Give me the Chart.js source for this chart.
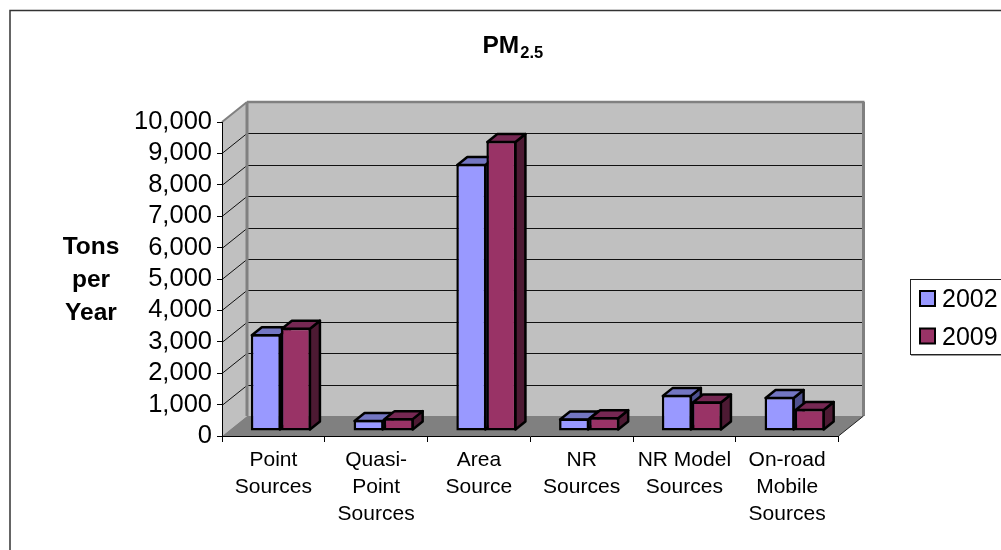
<!DOCTYPE html>
<html>
<head>
<meta charset="utf-8">
<title>PM2.5</title>
<style>
    html, body { margin: 0; padding: 0; background: #ffffff; overflow: hidden; }
    canvas { display: block; }
</style>
<script src="https://cdn.jsdelivr.net/npm/chart.js@4/dist/chart.umd.min.js"></script>
</head>
<body>
<canvas id="pmChart" width="1001" height="550"></canvas>
<script>
// Emissions by source type, tons per year
const categories = [
    ['Point', 'Sources'],
    ['Quasi-', 'Point', 'Sources'],
    ['Area', 'Source'],
    ['NR', 'Sources'],
    ['NR Model', 'Sources'],
    ['On-road', 'Mobile', 'Sources']
];
const values2002 = [3080, 350, 8500, 400, 1150, 1080];
const values2009 = [3290, 410, 9235, 440, 940, 700];
const yAxisLines = ['Tons', 'per', 'Year'];

const FONT = '"Liberation Sans", Arial, sans-serif';

// Offset of the back wall from the front plane
const WALL_DX = 25;
const WALL_DY = -20;
// Offset of the bar fronts from the front plane, and depth of each bar
const BAR_DX = 7.5;
const BAR_DY = -5;
const DEPTH_DX = 10;
const DEPTH_DY = -8;

function polygon(ctx, points, fill, stroke, lineWidth) {
    ctx.beginPath();
    points.forEach((p, i) => (i ? ctx.lineTo(p[0], p[1]) : ctx.moveTo(p[0], p[1])));
    ctx.closePath();
    if (fill) {
        ctx.fillStyle = fill;
        ctx.fill();
    }
    if (stroke) {
        ctx.strokeStyle = stroke;
        ctx.lineWidth = lineWidth;
        ctx.lineJoin = 'round';
        ctx.stroke();
    }
}

function line(ctx, x0, y0, x1, y1, color, width) {
    ctx.beginPath();
    ctx.moveTo(x0, y0);
    ctx.lineTo(x1, y1);
    ctx.strokeStyle = color;
    ctx.lineWidth = width;
    ctx.stroke();
}

// Walls and floor go under the axes
const wallsPlugin = {
    id: 'walls',
    beforeDraw(chart) {
        const ctx = chart.ctx;
        const { left, right, top, bottom } = chart.chartArea;
        const y = chart.scales.y;
        const backLeft = left + WALL_DX;
        const backRight = right + WALL_DX;
        const backTop = top + WALL_DY;
        const backBottom = bottom + WALL_DY;

        ctx.save();
        // chart frame, runs off the right and bottom of the page
        ctx.strokeStyle = '#333333';
        ctx.lineWidth = 1.5;
        ctx.strokeRect(10, 10.5, 1100, 700);

        polygon(ctx, [[backLeft, backTop], [backRight, backTop], [backRight, backBottom], [backLeft, backBottom]], '#c0c0c0');
        polygon(ctx, [[left, top], [backLeft, backTop], [backLeft, backBottom], [left, bottom]], '#c0c0c0');
        polygon(ctx, [[left, bottom], [backLeft, backBottom], [backRight, backBottom], [right, bottom]], '#808080');

        y.ticks.forEach(t => {
            if (t.value === 0 || t.value === y.max) return;
            const py = Math.round(y.getPixelForValue(t.value)) + 0.5;
            line(ctx, left, py, backLeft, py + WALL_DY, '#111111', 1);
            line(ctx, backLeft, py + WALL_DY, backRight, py + WALL_DY, '#111111', 1.2);
        });

        // wall edges
        line(ctx, left, top, backLeft, backTop, '#808080', 2);
        line(ctx, backLeft, backTop, backRight + 1, backTop, '#808080', 2.5);
        line(ctx, backLeft, backTop, backLeft, backBottom, '#808080', 3);
        line(ctx, backRight, backTop, backRight, backBottom, '#808080', 3);
        line(ctx, right, bottom, backRight, backBottom, '#222222', 1);
        ctx.restore();
    }
};

// Sides and tops of the bars; the fronts are the library's own bar elements,
// drawn with the context shifted off the front plane
const barDepthPlugin = {
    id: 'barDepth',
    beforeDatasetsDraw(chart) {
        const ctx = chart.ctx;
        const shades = [
            { top: '#7376c2', side: '#4f5290' },
            { top: '#762853', side: '#4d1a33' }
        ];
        ctx.save();
        ctx.translate(BAR_DX, BAR_DY);
        categories.forEach((c, i) => {
            chart.data.datasets.forEach((ds, d) => {
                const bar = chart.getDatasetMeta(d).data[i];
                const x0 = bar.x - bar.width / 2 + 1;
                const x1 = bar.x + bar.width / 2 - 1;
                const yTop = bar.y + 1;
                const yBase = bar.base - 1;
                polygon(ctx, [[x1, yTop], [x1 + DEPTH_DX, yTop + DEPTH_DY], [x1 + DEPTH_DX, yBase + DEPTH_DY], [x1, yBase]],
                    shades[d].side, '#000000', 2.5);
                polygon(ctx, [[x0, yTop], [x0 + DEPTH_DX, yTop + DEPTH_DY], [x1 + DEPTH_DX, yTop + DEPTH_DY], [x1, yTop]],
                    shades[d].top, '#000000', 2.5);
            });
        });
        ctx.restore();
        ctx.save();
        ctx.translate(BAR_DX, BAR_DY);
    },
    afterDatasetsDraw(chart) {
        chart.ctx.restore();
    }
};

// Title with subscript, y axis caption and the legend box
const captionsPlugin = {
    id: 'captions',
    afterDraw(chart) {
        const ctx = chart.ctx;
        ctx.save();
        ctx.fillStyle = '#000000';
        ctx.textBaseline = 'alphabetic';

        ctx.textAlign = 'left';
        ctx.font = 'bold 24.5px ' + FONT;
        ctx.fillText('PM', 482.5, 53);
        const pmWidth = ctx.measureText('PM').width;
        ctx.font = 'bold 16.5px ' + FONT;
        ctx.fillText('2.5', 483.5 + pmWidth, 58);

        ctx.textAlign = 'center';
        ctx.font = 'bold 24.5px ' + FONT;
        [254, 287, 320].forEach((py, i) => ctx.fillText(yAxisLines[i], 91, py));

        // legend box is cut by the page edge too
        ctx.strokeStyle = '#222222';
        ctx.lineWidth = 1;
        ctx.strokeRect(910.5, 279.5, 120, 75);
        line(ctx, 911, 355.5, 1001, 355.5, '#999999', 1);

        ctx.textAlign = 'left';
        ctx.font = '25px ' + FONT;
        chart.data.datasets.forEach((ds, d) => {
            const top = 291 + d * 37.5;
            ctx.fillStyle = ds.backgroundColor;
            ctx.strokeStyle = '#000000';
            ctx.lineWidth = 2;
            ctx.fillRect(920, top, 15, 15);
            ctx.strokeRect(920, top, 15, 15);
            ctx.fillStyle = '#000000';
            ctx.fillText(ds.label, 942, top + 16);
        });
        ctx.restore();
    }
};

document.addEventListener('DOMContentLoaded', function () {
    const pmConfig = {
        type: 'bar',
        data: {
            labels: categories,
            datasets: [
                { label: '2002', data: values2002, backgroundColor: '#9999ff' },
                { label: '2009', data: values2009, backgroundColor: '#993366' }
            ]
        },
        options: {
            responsive: false,
            animation: false,
            layout: { padding: { top: 122, right: 162.5, left: 0, bottom: 0 } },
            datasets: {
                bar: {
                    categoryPercentage: 0.585,
                    barPercentage: 1,
                    borderColor: '#000000',
                    borderWidth: 2.5,
                    borderSkipped: false,
                    clip: false
                }
            },
            scales: {
                x: {
                    afterFit(scale) { scale.height = 114; },
                    grid: { offset: true, drawOnChartArea: false, color: '#000000', tickLength: 6 },
                    border: { color: '#000000', width: 1 },
                    ticks: {
                        autoSkip: false,
                        maxRotation: 0,
                        minRotation: 0,
                        padding: 5,
                        color: '#000000',
                        font: { family: FONT, size: 21, lineHeight: 1.286 }
                    }
                },
                y: {
                    min: 0,
                    max: 10000,
                    afterFit(scale) { scale.width = 222; },
                    grid: { drawOnChartArea: false, color: '#000000', tickLength: 5 },
                    border: { color: '#000000', width: 1 },
                    ticks: {
                        stepSize: 1000,
                        autoSkip: false,
                        padding: 5,
                        color: '#000000',
                        font: { family: FONT, size: 25.5 },
                        callback: value => value.toLocaleString('en-US')
                    }
                }
            },
            plugins: {
                legend: { display: false },
                title: { display: false },
                tooltip: { enabled: false }
            }
        },
        plugins: [wallsPlugin, barDepthPlugin, captionsPlugin]
    };

    const pmChart = new Chart(document.getElementById('pmChart'), pmConfig);
});
</script>
</body>
</html>
